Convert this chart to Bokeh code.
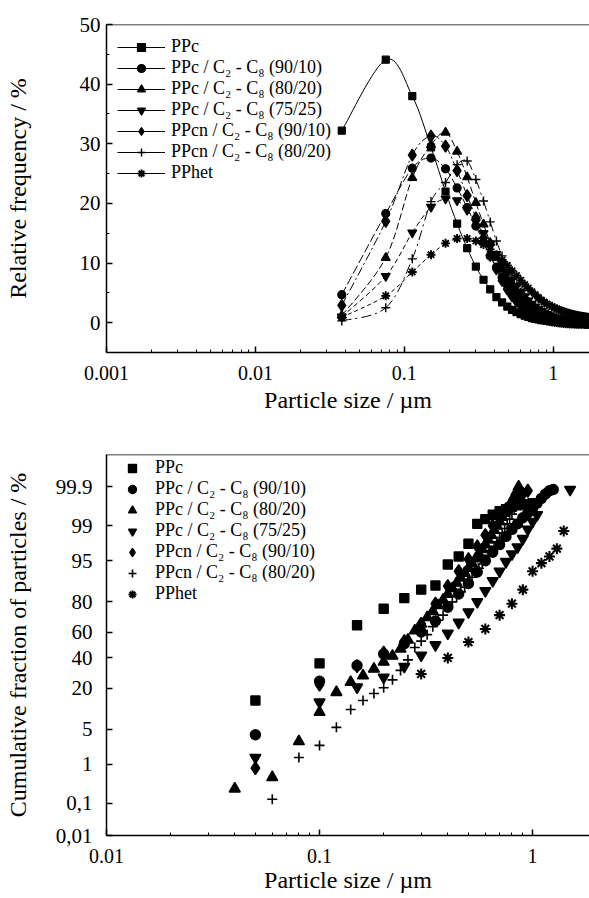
import math
from statistics import NormalDist
from bokeh.plotting import figure
from bokeh.layouts import column
from bokeh.models import Range1d, FixedTicker, SingleIntervalTicker, Span, Legend, LegendItem
from bokeh.embed import file_html
from bokeh.resources import INLINE

FONT = "'Liberation Serif', 'Times New Roman', serif"

labels = ["PPc", "PPc / C\u2082 - C\u2088 (90/10)", "PPc / C\u2082 - C\u2088 (80/20)",
          "PPc / C\u2082 - C\u2088 (75/25)", "PPcn / C\u2082 - C\u2088 (90/10)",
          "PPcn / C\u2082 - C\u2088 (80/20)", "PPhet"]

# ---------------- top panel: relative frequency (%) vs particle size (um)
size_top = [0.038, 0.075, 0.113, 0.151, 0.189, 0.226, 0.264, 0.302, 0.340, 0.377,
            0.415, 0.453, 0.491, 0.528, 0.566, 0.604, 0.642, 0.679, 0.717, 0.755,
            0.793, 0.830, 0.868, 0.906, 0.944, 0.981, 1.019, 1.057, 1.094, 1.132,
            1.170, 1.208, 1.245, 1.283, 1.321, 1.358, 1.396, 1.434, 1.472, 1.509,
            1.547, 1.585, 1.623, 1.660, 1.698, 1.736]

freq_ppc = [32.2, 44.1, 38.0, 29.4, 22.0, 16.6, 12.5, 9.4, 7.2, 5.6,
            4.3, 3.4, 2.7, 2.15, 1.75, 1.42, 1.16, 0.95, 0.78, 0.64,
            0.53, 0.44, 0.37, 0.31, 0.26, 0.22, 0.18, 0.15, 0.13, 0.11,
            0.09, 0.08, 0.07, 0.06, 0.05, 0.04, 0.035, 0.03, 0.025, 0.02,
            0.018, 0.015, 0.012, 0.01, 0.008, 0.007]
freq_c9010 = [4.7, 18.3, 25.9, 27.6, 25.8, 22.6, 19.3, 16.2, 13.5, 11.2,
              9.3, 7.6, 6.3, 5.2, 4.3, 3.6, 3.0, 2.5, 2.1, 1.75,
              1.47, 1.24, 1.04, 0.88, 0.74, 0.63, 0.53, 0.45, 0.38, 0.32,
              0.27, 0.23, 0.2, 0.17, 0.14, 0.12, 0.1, 0.09, 0.08, 0.07,
              0.06, 0.05, 0.04, 0.035, 0.03, 0.025]
freq_c8020 = [1.2, 10.9, 24.3, 29.8, 31.9, 28.7, 24.4, 20.1, 16.5, 13.4,
              10.9, 8.9, 7.2, 5.9, 4.8, 3.9, 3.2, 2.65, 2.2, 1.8,
              1.5, 1.25, 1.05, 0.88, 0.74, 0.62, 0.52, 0.44, 0.37, 0.31,
              0.26, 0.22, 0.19, 0.16, 0.14, 0.12, 0.1, 0.085, 0.072, 0.061,
              0.052, 0.044, 0.037, 0.031, 0.026, 0.022]
freq_c7525 = [1.0, 7.8, 15.1, 19.4, 20.8, 20.5, 18.9, 16.9, 15.0, 13.2,
              11.5, 9.9, 8.5, 7.2, 6.1, 5.2, 4.4, 3.7, 3.15, 2.7,
              2.3, 1.95, 1.66, 1.42, 1.21, 1.03, 0.88, 0.75, 0.64, 0.55,
              0.47, 0.4, 0.34, 0.29, 0.25, 0.21, 0.18, 0.155, 0.13, 0.11,
              0.095, 0.08, 0.07, 0.06, 0.05, 0.043]
freq_cn9010 = [2.9, 17.0, 28.1, 31.3, 29.6, 25.5, 21.3, 17.6, 14.2, 11.3,
               9.0, 7.1, 5.6, 4.5, 3.6, 2.9, 2.35, 1.9, 1.55, 1.27,
               1.04, 0.86, 0.71, 0.59, 0.49, 0.41, 0.34, 0.28, 0.24, 0.2,
               0.17, 0.14, 0.12, 0.1, 0.085, 0.072, 0.061, 0.052, 0.044, 0.037,
               0.031, 0.026, 0.022, 0.019, 0.016, 0.013]
freq_cn8020 = [0.3, 2.5, 10.7, 20.3, 23.5, 26.5, 27.1, 24.0, 20.4, 16.9,
               13.7, 11.2, 9.2, 7.5, 6.2, 5.1, 4.2, 3.5, 2.9, 2.4,
               2.0, 1.67, 1.4, 1.17, 0.98, 0.82, 0.69, 0.58, 0.49, 0.41,
               0.35, 0.29, 0.25, 0.21, 0.18, 0.15, 0.13, 0.11, 0.09, 0.08,
               0.07, 0.06, 0.05, 0.04, 0.035, 0.03]
freq_het = [0.9, 4.5, 8.5, 11.4, 13.3, 14.1, 14.1, 13.7, 13.1, 12.3,
            11.4, 10.5, 9.6, 8.7, 7.9, 7.1, 6.4, 5.8, 5.2, 4.7,
            4.2, 3.8, 3.45, 3.15, 2.9, 2.68, 2.48, 2.3, 2.14, 2.0,
            1.87, 1.75, 1.64, 1.54, 1.45, 1.37, 1.3, 1.23, 1.17, 1.12,
            1.07, 1.02, 0.98, 0.94, 0.9, 0.87]

freq_all = [freq_ppc, freq_c9010, freq_c8020, freq_c7525, freq_cn9010, freq_cn8020, freq_het]

# ---------------- bottom panel: cumulative fraction (%) vs particle size (um)
cum_ppc_x = [0.05, 0.10, 0.15, 0.20, 0.25, 0.30, 0.35, 0.40, 0.45, 0.50,
             0.55, 0.60, 0.65, 0.70, 0.75, 0.80, 0.85, 0.90, 0.95, 1.00]
cum_ppc = [13.9, 36, 65, 76, 82, 86, 87.7, 94.2, 95.8, 97.6,
           99.1, 99.3, 99.45, 99.55, 99.6, 99.65, 99.68, 99.7, 99.7, 99.72]

cum_c9010_x = [0.05, 0.10, 0.15, 0.20, 0.25, 0.30, 0.35, 0.40, 0.45, 0.50,
               0.55, 0.60, 0.65, 0.70, 0.75, 0.80, 0.85, 0.90, 0.95, 1.00,
               1.05, 1.10, 1.15, 1.20, 1.25]
cum_c9010 = [4.0, 24, 34.5, 43, 51, 60, 68, 77, 84, 88.5,
             92.3, 95, 96.5, 97.5, 98.3, 98.8, 99.1, 99.35, 99.5, 99.62,
             99.72, 99.79, 99.84, 99.87, 99.88]

cum_c8020_x = [0.04, 0.06, 0.08, 0.10, 0.12, 0.14, 0.16, 0.18, 0.20, 0.22,
               0.24, 0.26, 0.28, 0.30, 0.32, 0.34, 0.36, 0.38, 0.40, 0.42,
               0.44, 0.46, 0.48, 0.50, 0.52, 0.54, 0.56, 0.58, 0.60, 0.62,
               0.64, 0.66, 0.68, 0.70, 0.72, 0.74, 0.76, 0.78, 0.80, 0.82,
               0.84, 0.86]
cum_c8020 = [0.25, 0.49, 3.0, 9.5, 17.8, 23.4, 27.5, 32, 37, 41.5,
             47, 54, 61, 66, 70.5, 74.5, 78, 81, 84, 86.5,
             88.7, 90.5, 92, 93.3, 94.4, 95.4, 96.2, 96.9, 97.5, 98.0,
             98.4, 98.75, 99.0, 99.2, 99.37, 99.5, 99.6, 99.68, 99.75, 99.81,
             99.86, 99.9]

cum_c7525_x = [0.05, 0.10, 0.15, 0.20, 0.25, 0.30, 0.35, 0.40, 0.45, 0.50,
               0.55, 0.60, 0.65, 0.70, 0.75, 0.80, 0.85, 0.90, 0.95, 1.00,
               1.05, 1.50]
cum_c7525 = [1.4, 13.2, 20.5, 26.4, 33.7, 42, 50, 59, 67, 74,
             80, 85.5, 89.5, 92.5, 94.8, 96.2, 97.2, 98.1, 98.8, 99.2,
             99.45, 99.88]

cum_cn9010_x = [0.05, 0.10, 0.15, 0.20, 0.25, 0.30, 0.35, 0.40, 0.45, 0.50,
                0.55, 0.60, 0.65, 0.70, 0.75, 0.80, 0.85, 0.90, 0.95]
cum_cn9010 = [0.81, 22, 34, 44, 53, 66, 79, 87.5, 92.5, 95.3,
              97.3, 98.4, 99.0, 99.4, 99.6, 99.73, 99.8, 99.84, 99.87]

cum_cn8020_x = [0.06, 0.08, 0.10, 0.12, 0.14, 0.16, 0.18, 0.20, 0.22, 0.24,
                0.26, 0.28, 0.30, 0.32, 0.34, 0.36, 0.38, 0.40, 0.42, 0.44,
                0.46, 0.48, 0.50, 0.52, 0.54, 0.56, 0.58, 0.60, 0.62, 0.64,
                0.66, 0.68, 0.70, 0.72, 0.74, 0.76, 0.78, 0.80, 0.82, 0.84,
                0.86, 0.88]
cum_cn8020 = [0.13, 1.4, 2.5, 5.4, 10.4, 13.9, 17.2, 20.2, 24.8, 31,
              38.6, 48, 53, 58, 64, 68.5, 72, 76.5, 80, 82.8,
              85, 87, 89, 90.7, 92.1, 93.3, 94.3, 95.2, 96.0, 96.7,
              97.3, 97.8, 98.2, 98.55, 98.85, 99.1, 99.3, 99.47, 99.6, 99.7,
              99.78, 99.85]

cum_het_x = [0.3, 0.4, 0.5, 0.6, 0.7, 0.8, 0.9, 1.0, 1.1, 1.2, 1.3, 1.4]
cum_het = [28.6, 40, 52.3, 62.3, 72, 79, 86, 92.5, 94.5, 95.8, 97, 98.7]

cum_x_all = [cum_ppc_x, cum_c9010_x, cum_c8020_x, cum_c7525_x, cum_cn9010_x, cum_cn8020_x, cum_het_x]
cum_all = [cum_ppc, cum_c9010, cum_c8020, cum_c7525, cum_cn9010, cum_cn8020, cum_het]

prob_tick_pct = [0.01, 0.1, 1, 5, 20, 40, 60, 80, 95, 99, 99.9]
prob_tick_labels = ["0,01", "0,1", "1", "5", "20", "40", "60", "80", "95", "99", "99.9"]

markers = ["square", "circle", "triangle", "inverted_triangle", "diamond", "cross", "asterisk"]
size_top_mk = [7, 8, 9, 9, 12, 9, 9]
size_bot_mk = [9, 10, 11, 11, 13, 10, 11]
mk_line_w = [1.2, 1.2, 1.2, 1.2, 1.2, 1.4, 1.9]
dashes = ["solid", "9 3", "7 3", "5 3", "9 3 2 3", "10 4 2 4", "4 3"]

nd = NormalDist()


def probit(pct):
    return nd.inv_cdf(pct / 100.0)


def spline_segments(xs, ys):
    # Catmull-Rom curve through the data points, drawn as cubic Bezier pieces
    lx = [math.log10(v) for v in xs]
    n = len(xs)
    seg = dict(x0=[], y0=[], x1=[], y1=[], cx0=[], cy0=[], cx1=[], cy1=[])
    for i in range(n - 1):
        a = max(i - 1, 0)
        b = min(i + 2, n - 1)
        seg["x0"].append(xs[i])
        seg["y0"].append(ys[i])
        seg["x1"].append(xs[i + 1])
        seg["y1"].append(ys[i + 1])
        seg["cx0"].append(10 ** (lx[i] + (lx[i + 1] - lx[a]) / 6.0))
        seg["cy0"].append(ys[i] + (ys[i + 1] - ys[a]) / 6.0)
        seg["cx1"].append(10 ** (lx[i + 1] - (lx[b] - lx[i]) / 6.0))
        seg["cy1"].append(ys[i + 1] - (ys[b] - ys[i]) / 6.0)
    return seg


def style_axes(p):
    for ax in p.axis:
        ax.axis_line_width = 1.5
        ax.axis_line_color = "black"
        ax.major_tick_in = 6
        ax.major_tick_out = 0
        ax.minor_tick_in = 3
        ax.minor_tick_out = 0
        ax.major_tick_line_width = 1.5
        ax.major_tick_line_color = "black"
        ax.minor_tick_line_color = "black"
        ax.major_label_text_font = FONT
        ax.major_label_text_color = "black"
        ax.axis_label_text_font = FONT
        ax.axis_label_text_font_size = "24px"
        ax.axis_label_text_font_style = "normal"
        ax.axis_label_text_color = "black"
    p.xaxis.major_label_text_font_size = "20px"
    p.yaxis.major_label_text_font_size = "21px"
    p.xgrid.visible = False
    p.ygrid.visible = False
    p.outline_line_color = None
    p.background_fill_color = "white"
    p.border_fill_color = "white"


def log_minor(decades):
    return [m * 10.0 ** e for e in decades for m in range(2, 10)]


def make_legend(items, loc, spacing, glyph_width, standoff):
    return Legend(items=items, location=loc, margin=0, padding=0, spacing=spacing,
                  glyph_width=glyph_width, glyph_height=20, label_height=20,
                  label_standoff=standoff, label_text_font=FONT,
                  label_text_font_size="18px", label_text_color="black",
                  border_line_color=None, background_fill_alpha=0,
                  inactive_fill_alpha=0, click_policy="none")


# ---------------- top figure
p1 = figure(width=589, height=432, x_axis_type="log",
            x_range=Range1d(0.001, 1.75), y_range=Range1d(-5, 50),
            output_backend="svg", toolbar_location=None,
            min_border_left=106, min_border_right=0, min_border_top=24, min_border_bottom=80)

items1 = []
for i in range(7):
    seg = spline_segments(size_top, freq_all[i])
    p1.bezier(x0=seg["x0"], y0=seg["y0"], x1=seg["x1"], y1=seg["y1"],
              cx0=seg["cx0"], cy0=seg["cy0"], cx1=seg["cx1"], cy1=seg["cy1"],
              line_color="black", line_width=1, line_dash=dashes[i])
    # legend sample: solid connecting line as drawn in the original key
    rl = p1.line(size_top, freq_all[i], line_color="black", line_width=1, visible=False)
    rs = p1.scatter(size_top, freq_all[i], marker=markers[i], size=size_top_mk[i],
                    fill_color="black", line_color="black", line_width=mk_line_w[i])
    items1.append(LegendItem(label=labels[i], renderers=[rl, rs]))

style_axes(p1)
p1.xaxis.ticker = FixedTicker(ticks=[0.001, 0.01, 0.1, 1], minor_ticks=log_minor([-3, -2, -1, 0]))
p1.xaxis.major_label_overrides = {0.001: "0.001", 0.01: "0.01", 0.1: "0.1", 1: "1"}
p1.xaxis.major_label_standoff = 13
p1.xaxis.axis_label_standoff = 4
p1.xaxis.axis_label = "Particle size / \u00b5m"
p1.yaxis.ticker = SingleIntervalTicker(interval=10, num_minor_ticks=2)
p1.yaxis.major_label_standoff = 6
p1.yaxis.axis_label_standoff = 46
p1.yaxis.axis_label = "Relative frequency / %"
p1.add_layout(Span(location=50, dimension="width", line_color="black", line_width=1.5))
p1.add_layout(make_legend(items1, (11, 169), 0, 48, 6), "center")

# ---------------- bottom figure
y_lo = probit(0.01)
y_hi = probit(99.99)
p2 = figure(width=589, height=466, x_axis_type="log",
            x_range=Range1d(0.01, 1.85), y_range=Range1d(y_lo - 1e-9, y_hi),
            output_backend="svg", toolbar_location=None,
            min_border_left=106, min_border_right=0, min_border_top=22, min_border_bottom=63)

items2 = []
for i in range(7):
    rs = p2.scatter(cum_x_all[i], [probit(v) for v in cum_all[i]], marker=markers[i],
                    size=size_bot_mk[i], fill_color="black", line_color="black",
                    line_width=mk_line_w[i] + 0.2)
    items2.append(LegendItem(label=labels[i], renderers=[rs]))

style_axes(p2)
p2.xaxis.ticker = FixedTicker(ticks=[0.01, 0.1, 1], minor_ticks=log_minor([-2, -1, 0]))
p2.xaxis.major_label_overrides = {0.01: "0.01", 0.1: "0.1", 1: "1"}
p2.xaxis.major_label_standoff = 13
p2.xaxis.axis_label_standoff = 1
p2.xaxis.axis_label = "Particle size / \u00b5m"
ytick_pos = [probit(v) for v in prob_tick_pct]
p2.yaxis.ticker = FixedTicker(ticks=ytick_pos, minor_ticks=[])
p2.yaxis.major_label_overrides = {pos: lab for pos, lab in zip(ytick_pos, prob_tick_labels)}
p2.yaxis.major_label_standoff = 14
p2.yaxis.axis_label_standoff = 22
p2.yaxis.axis_label = "Cumulative fraction of particles / %"
p2.add_layout(Span(location=y_hi, dimension="width", line_color="black", line_width=1.5))
p2.add_layout(make_legend(items2, (3, 231), 0, 46, -2), "center")

layout = column(p1, p2, spacing=0)
open("out.html", "w").write(file_html(layout, INLINE))
